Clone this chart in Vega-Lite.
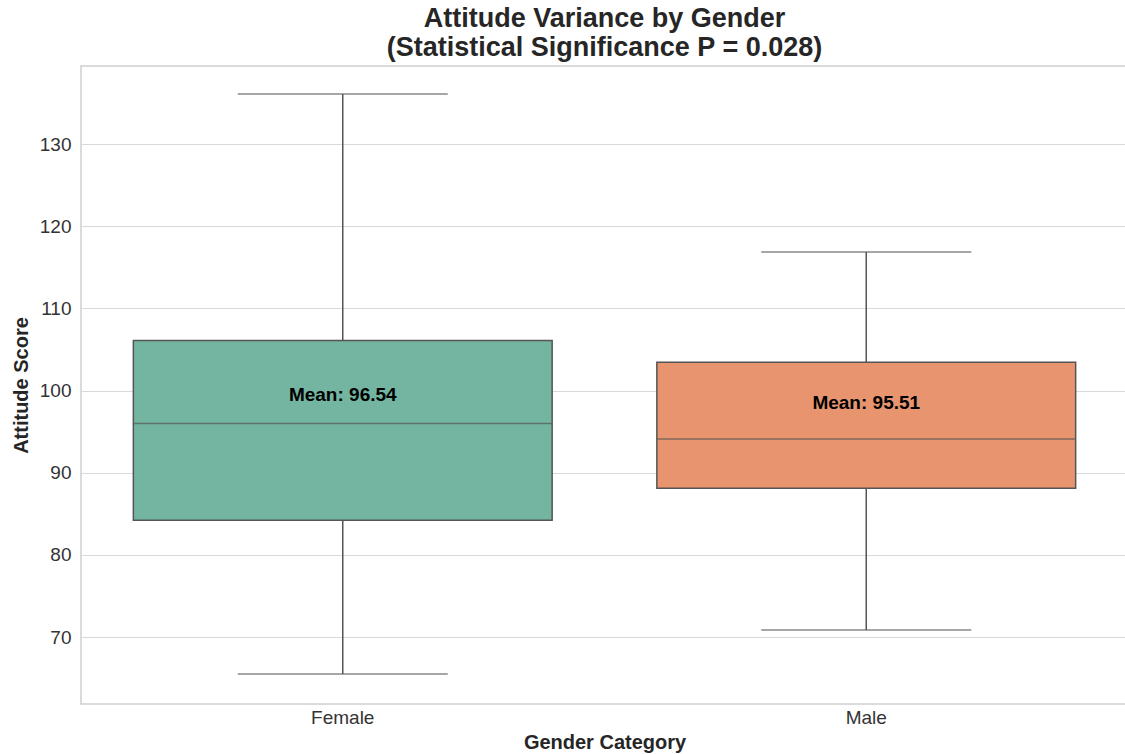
{
  "$schema": "https://vega.github.io/schema/vega-lite/v6.json",
  "width": 1047,
  "height": 638,
  "autosize": "none",
  "padding": {"left": 81, "top": 66, "right": 0, "bottom": 50},
  "background": "white",
  "title": {
    "text": ["Attitude Variance by Gender", "(Statistical Significance P = 0.028)"],
    "font": "Liberation Sans",
    "fontSize": 27,
    "fontWeight": "bold",
    "color": "#262626",
    "anchor": "middle",
    "offset": 4,
    "lineHeight": 29
  },
  "config": {
    "font": "Liberation Sans",
    "view": {"stroke": "#d0d0d0", "strokeWidth": 1.5},
    "axis": {
      "labelFont": "Liberation Sans",
      "titleFont": "Liberation Sans",
      "labelFontSize": 19,
      "labelColor": "#333333",
      "titleFontSize": 20,
      "titleFontWeight": "bold",
      "titleColor": "#262626",
      "domain": false,
      "ticks": false,
      "gridColor": "#d9d9d9",
      "gridWidth": 1
    }
  },
  "data": {
    "values": [
      {"gender": "Female", "lower": 65.5, "q1": 84.2, "median": 96.0, "q3": 106.1, "upper": 136.1, "mean": 96.54, "label": "Mean: 96.54"},
      {"gender": "Male", "lower": 70.85, "q1": 88.1, "median": 94.1, "q3": 103.45, "upper": 116.85, "mean": 95.51, "label": "Mean: 95.51"}
    ]
  },
  "encoding": {
    "x": {
      "field": "gender",
      "type": "nominal",
      "sort": ["Female", "Male"],
      "scale": {"paddingInner": 0, "paddingOuter": 0},
      "axis": {"title": "Gender Category", "labelAngle": 0, "labelPadding": 4, "titlePadding": 5, "grid": false}
    }
  },
  "layer": [
    {
      "mark": {"type": "rule", "color": "#555555", "strokeWidth": 1.5},
      "encoding": {
        "y": {
          "field": "lower",
          "type": "quantitative",
          "scale": {"domain": [61.85, 139.5], "nice": false, "zero": false},
          "axis": {"title": "Attitude Score", "values": [70, 80, 90, 100, 110, 120, 130], "labelPadding": 10, "titlePadding": 8}
        },
        "y2": {"field": "upper"}
      }
    },
    {
      "mark": {"type": "tick", "color": "#555555", "size": 210, "thickness": 1.5, "orient": "horizontal"},
      "encoding": {"y": {"field": "lower", "type": "quantitative"}}
    },
    {
      "mark": {"type": "tick", "color": "#555555", "size": 210, "thickness": 1.5, "orient": "horizontal"},
      "encoding": {"y": {"field": "upper", "type": "quantitative"}}
    },
    {
      "mark": {"type": "bar", "width": {"band": 0.8}, "stroke": "#555555", "strokeWidth": 1.5},
      "encoding": {
        "y": {"field": "q1", "type": "quantitative"},
        "y2": {"field": "q3"},
        "color": {
          "field": "gender",
          "type": "nominal",
          "scale": {"domain": ["Female", "Male"], "range": ["#73b5a0", "#e8956f"]},
          "legend": null
        }
      }
    },
    {
      "mark": {"type": "tick", "color": "#555555", "size": 419, "thickness": 1.5, "orient": "horizontal"},
      "encoding": {"y": {"field": "median", "type": "quantitative"}}
    },
    {
      "mark": {"type": "text", "font": "Liberation Sans", "fontSize": 19, "fontWeight": "bold", "color": "black", "dy": -24, "baseline": "middle"},
      "encoding": {
        "y": {"field": "mean", "type": "quantitative"},
        "text": {"field": "label", "type": "nominal"}
      }
    }
  ]
}
